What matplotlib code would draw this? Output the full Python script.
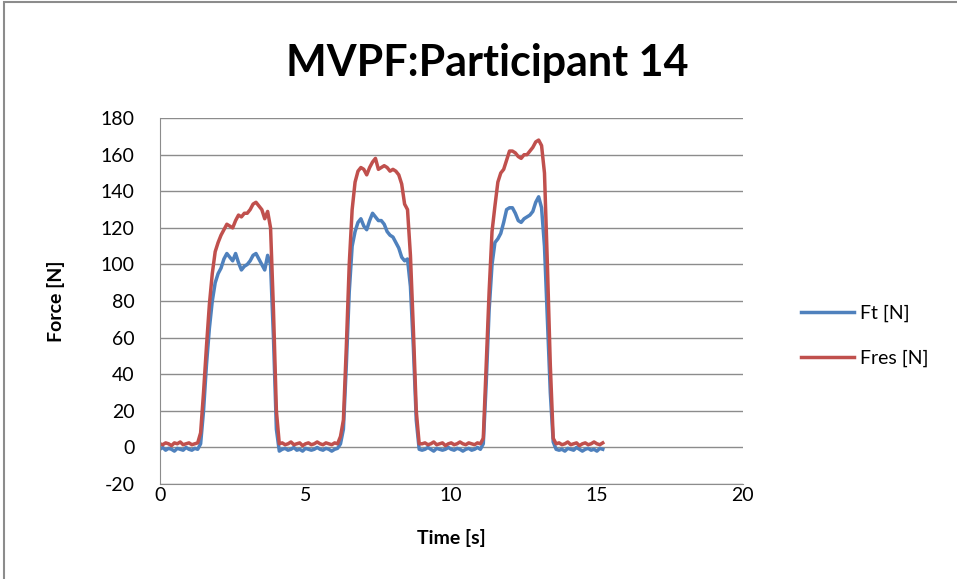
import numpy as np
import matplotlib.pyplot as plt
from matplotlib.patches import Rectangle

# samples every 0.1 s, 0.0 .. 15.2 s
time_s = np.round(np.arange(0, 153) * 0.1, 1)

ft = [
    # rest
    -1, 0, -1.5, -0.5, -1, -2, -0.5, -1, -1.5, 0, -1, -1.5, -0.5, -1,
    # push 1 (1.4 - 4.1)
    2, 20, 45, 65, 80, 90, 95, 98, 103, 106, 104, 102, 106, 101, 97, 99,
    100, 102, 105, 106, 103, 100, 97, 105, 100, 60, 10, -2,
    # rest (4.2 - 6.1)
    -1, -0.5, -1.5, -1, 0, -1.5, -1, -2, -0.5, -1, -1.5, -1, 0, -1, -1.5,
    -0.5, -1, -2, -1, -0.5,
    # push 2 (6.2 - 8.9)
    2, 10, 45, 85, 110, 118, 123, 125, 121, 119, 124, 128, 126, 124, 124,
    122, 118, 116, 115, 112, 109, 104, 102, 103, 88, 55, 15, -1,
    # rest (9.0 - 11.0)
    -1.5, -1, 0, -1, -2, -0.5, -1, -1.5, -1, 0, -1, -1.5, -0.5, -1, -2, -1,
    -0.5, -1.5, -1, 0, -1,
    # push 3 (11.1 - 13.6)
    2, 35, 75, 100, 112, 114, 117, 123, 130, 131, 131, 128, 124, 123, 125,
    126, 127, 129, 134, 137, 131, 110, 70, 30, 3, -1,
    # rest (13.7 - 15.2)
    -1.5, -1, -2, -0.5, -1, -1.5, 0, -1, -2, -1, -0.5, -1.5, -1, -2, -0.5, -1,
]

fres = [
    2, 1.5, 2.5, 2, 1, 2.5, 2, 3, 1.5, 2, 2.5, 1.5, 2, 2.5,
    8, 30, 55, 78, 95, 107, 112, 116, 119, 122, 121, 120, 124, 127, 126, 128,
    128, 130, 133, 134, 132, 130, 125, 129, 120, 75, 20, 2,
    2.5, 1.5, 2, 3, 1.5, 2, 2.5, 1, 2, 2.5, 1.5, 2, 3, 2, 1.5, 2.5, 2, 1.5,
    2.5, 2,
    6, 15, 55, 100, 130, 145, 151, 153, 152, 149, 153, 156, 158, 152, 153,
    154, 153, 151, 152, 151, 149, 144, 133, 130, 105, 65, 20, 2,
    2, 2.5, 1.5, 2, 3, 1.5, 2, 2.5, 1, 2, 2.5, 1.5, 2, 3, 2, 1.5, 2.5, 2, 1.5,
    2.5, 2,
    5, 45, 85, 118, 132, 145, 150, 152, 157, 162, 162, 161, 159, 158, 160,
    160, 162, 164, 167, 168, 165, 150, 100, 45, 5, 2,
    2.5, 1.5, 2, 3, 1.5, 2, 2.5, 1, 2, 2.5, 1.5, 2, 3, 2, 1.5, 2.5,
]

y_ticks = list(range(-20, 181, 20))
x_ticks = [0, 5, 10, 15, 20]

plt.rcParams['font.family'] = ['Lato', 'DejaVu Sans']
plt.rcParams['axes.unicode_minus'] = False

fig = plt.figure(figsize=(9.57, 5.79), dpi=100)
fig.patches.append(Rectangle((0.004, -0.1), 1.2, 1.097, transform=fig.transFigure,
                             fill=False, edgecolor='#8c8c8c', linewidth=1.5))

ax = fig.add_axes([0.167, 0.164, 0.609, 0.632])
ax.plot(time_s, ft, color='#4F81BD', linewidth=2.5, label='Ft [N]')
ax.plot(time_s, fres, color='#C0504D', linewidth=2.5, label='Fres [N]')

ax.set_xlim(0, 20)
ax.set_ylim(-20, 180)
ax.set_xticks(x_ticks)
ax.set_yticks(y_ticks)
ax.yaxis.grid(True, color='#8c8c8c', linewidth=1)
ax.set_axisbelow(True)
for side in ['top', 'right']:
    ax.spines[side].set_visible(False)
for side in ['left', 'bottom']:
    ax.spines[side].set_color('#8c8c8c')
ax.tick_params(axis='both', colors='#8c8c8c', labelcolor='black', labelsize=14, length=0)
ax.tick_params(axis='y', pad=18)
ax.tick_params(axis='x', pad=2)

# title sits centred over the whole chart, not just the plot area
ax.set_title('MVPF:Participant 14', fontsize=31, fontweight='bold', pad=30, x=0.561)
ax.set_xlabel('Time [s]', fontsize=14, fontweight='bold', labelpad=18)
ax.set_ylabel('Force [N]', fontsize=14, fontweight='bold', labelpad=26)

fig.legend(loc='center left', bbox_to_anchor=(0.819, 0.42), frameon=False,
           fontsize=14, handlelength=2.7, labelspacing=1.4, handletextpad=0.3)

fig.savefig('out.png', dpi=100)
